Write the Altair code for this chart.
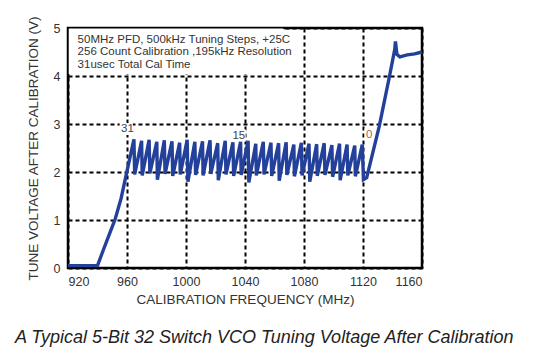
import altair as alt
import pandas as pd

freq_mhz = [920, 940, 944, 948, 952, 956,
            960.0, 964.7, 965.2, 969.9, 970.3, 975.0, 975.5, 980.2, 980.6, 985.3,
            985.8, 990.5, 991.0, 995.7, 996.1, 1000.8, 1001.3, 1006.0, 1006.5, 1011.2,
            1011.6, 1016.3, 1016.8, 1021.5, 1021.9, 1026.6, 1027.1, 1031.8, 1032.3, 1037.0,
            1037.4, 1042.1, 1042.6, 1047.3, 1047.7, 1052.4, 1052.9, 1057.6, 1058.1, 1062.8,
            1063.2, 1067.9, 1068.4, 1073.1, 1073.5, 1078.2, 1078.7, 1083.4, 1083.9, 1088.6,
            1089.0, 1093.7, 1094.2, 1098.9, 1099.4, 1104.1, 1104.5, 1109.2, 1109.7, 1114.4,
            1114.8, 1119.5, 1120.3,
            1122.5, 1131, 1138, 1141.5, 1142, 1143, 1145, 1150, 1155, 1160]
tune_v = [0.05, 0.05, 0.38, 0.70, 1.02, 1.45,
          2.02, 2.68, 1.95, 2.65, 1.93, 2.67, 1.97, 2.63, 1.84, 2.66,
          1.96, 2.64, 1.92, 2.61, 1.95, 2.67, 1.80, 2.63, 1.94, 2.64,
          1.93, 2.66, 1.96, 2.60, 1.83, 2.65, 1.95, 2.62, 1.92, 2.63,
          1.94, 2.65, 1.78, 2.59, 1.93, 2.63, 1.95, 2.61, 1.92, 2.60,
          1.82, 2.62, 1.94, 2.57, 1.91, 2.61, 1.93, 2.59, 1.80, 2.58,
          1.92, 2.60, 1.94, 2.56, 1.90, 2.59, 1.83, 2.57, 1.93, 2.55,
          1.91, 2.57, 1.84,
          1.88, 2.95, 4.00, 4.55, 4.72, 4.45, 4.40, 4.44, 4.46, 4.50]

note_lines = ["50MHz PFD, 500kHz Tuning Steps, +25C",
              "256 Count Calibration ,195kHz Resolution",
              "31usec Total Cal Time"]
note_v = [4.75, 4.50, 4.23]
note_f = [926.5, 926.5, 926.5]

band_labels = ["31", "15", "0"]
band_f = [956.0, 1031.5, 1122.0]
band_v = [2.90, 2.76, 2.78]
band_color = ["#444444", "#444444", "#b5683a"]

# white boxes behind the annotation texts (frequency / voltage extents)
box_f1 = [920.5, 955.0, 1030.5, 1121.0]
box_f2 = [1066.0, 964.0, 1040.5, 1128.5]
box_v1 = [4.04, 2.77, 2.63, 2.65]
box_v2 = [4.99, 3.02, 2.89, 2.91]

caption = "A Typical 5-Bit 32 Switch VCO Tuning Voltage After Calibration"

x_grid = list(range(920, 1161, 20))
y_ticks = [0, 1, 2, 3, 4, 5]

df = pd.DataFrame({"f": freq_mhz, "v": tune_v, "i": range(len(freq_mhz))})
notes = pd.DataFrame({"f": note_f, "v": note_v, "t": note_lines})
bands = pd.DataFrame({"f": band_f, "v": band_v, "t": band_labels, "c": band_color})
boxes = pd.DataFrame({"f1": box_f1, "f2": box_f2, "v1": box_v1, "v2": box_v2})
cap = pd.DataFrame({"t": [caption]})

xscale = alt.Scale(domain=[920, 1160], nice=False, zero=False)
yscale = alt.Scale(domain=[0, 5], nice=False)

box_layer = alt.Chart(boxes).mark_rect(color="white").encode(
    x=alt.X("f1:Q", scale=xscale,
            axis=alt.Axis(title="CALIBRATION FREQUENCY (MHz)", values=x_grid,
                          labelExpr="datum.value % 40 == 0 ? datum.label : ''",
                          format="d", labelPadding=7, titlePadding=5)),
    x2="f2:Q",
    y=alt.Y("v1:Q", scale=yscale,
            axis=alt.Axis(title="TUNE VOLTAGE AFTER CALIBRATION (V)", values=y_ticks,
                          labelPadding=8, titlePadding=13)),
    y2="v2:Q",
)

line = alt.Chart(df).mark_line(color="#23409a", strokeWidth=3.4, strokeJoin="miter",
                               strokeMiterLimit=2).encode(
    x=alt.X("f:Q", scale=xscale),
    y=alt.Y("v:Q", scale=yscale),
    order="i:Q",
)

note_text = alt.Chart(notes).mark_text(align="left", baseline="middle", fontSize=11.5,
                                       font="Liberation Sans", color="#333333").encode(
    x=alt.X("f:Q", scale=xscale), y=alt.Y("v:Q", scale=yscale), text="t:N")

band_text = alt.Chart(bands).mark_text(align="left", baseline="middle", fontSize=11.5,
                                       font="Liberation Sans").encode(
    x=alt.X("f:Q", scale=xscale), y=alt.Y("v:Q", scale=yscale), text="t:N",
    color=alt.Color("c:N", scale=None))

cap_text = alt.Chart(cap).mark_text(align="left", baseline="middle", fontSize=18,
                                    font="Liberation Sans", fontStyle="italic",
                                    color="#222222").encode(
    x=alt.value(-53), y=alt.value(310), text="t:N")

chart = alt.layer(box_layer, line, note_text, band_text, cap_text).properties(
    width=354, height=240,
    background="white",
    autosize=alt.AutoSizeParams(type="none"),
    padding={"left": 60, "top": 20, "right": 107, "bottom": 82},
).configure_view(
    stroke="black", strokeWidth=2.5
).configure_axis(
    domain=False, ticks=False,
    grid=True, gridColor="black", gridWidth=2, gridDash=[4, 3], gridOpacity=1,
    labelFont="Liberation Sans", labelFontSize=12.5, labelColor="#333333",
    titleFont="Liberation Sans", titleFontSize=13.5, titleFontWeight="normal",
    titleColor="#333333",
)

chart.save("out.html", embed_options={"renderer": "svg", "actions": False})
